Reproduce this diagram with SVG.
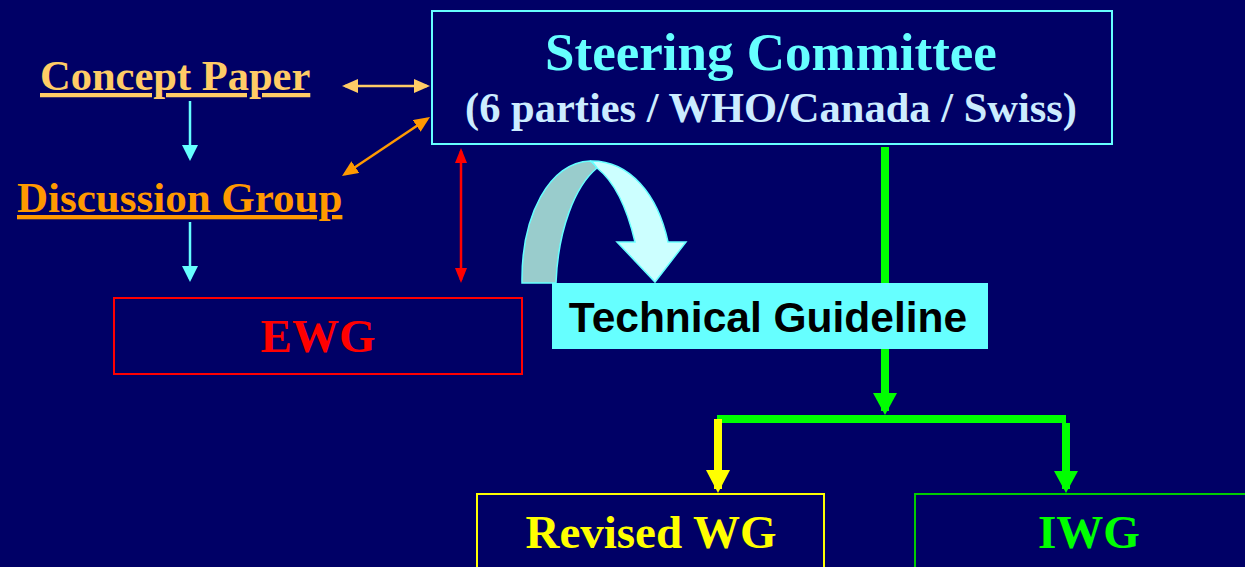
<svg xmlns="http://www.w3.org/2000/svg" width="1245" height="567" viewBox="0 0 1245 567">
<style>
.serif{font-family:"Liberation Serif","Times New Roman",serif;font-weight:bold}
.sans{font-family:"Liberation Sans",Arial,sans-serif;font-weight:bold}
.thin{fill:none;stroke-width:2.5}
.thick{fill:none;stroke-width:8}
</style>
<defs>
<marker id="hCyan" viewBox="0 0 16 16" refX="13" refY="8" markerWidth="16" markerHeight="16" markerUnits="userSpaceOnUse" orient="auto-start-reverse"><path d="M0,0 L16,8 L0,16 Z" fill="#66FFFF"/></marker>
<marker id="hGold" viewBox="0 0 16 14" refX="13" refY="7" markerWidth="16" markerHeight="14" markerUnits="userSpaceOnUse" orient="auto-start-reverse"><path d="M0,0 L16,7 L0,14 Z" fill="#FFCC66"/></marker>
<marker id="hOrange" viewBox="0 0 16 14" refX="13" refY="7" markerWidth="16" markerHeight="14" markerUnits="userSpaceOnUse" orient="auto-start-reverse"><path d="M0,0 L16,7 L0,14 Z" fill="#FF9900"/></marker>
<marker id="hRed" viewBox="0 0 15 12" refX="12" refY="6" markerWidth="15" markerHeight="12" markerUnits="userSpaceOnUse" orient="auto-start-reverse"><path d="M0,0 L15,6 L0,12 Z" fill="#FF0000"/></marker>
<marker id="hGreen" viewBox="0 0 22 24" refX="18" refY="12" markerWidth="22" markerHeight="24" markerUnits="userSpaceOnUse" orient="auto"><path d="M0,0 L22,12 L0,24 Z" fill="#00FF00"/></marker>
<marker id="hYellow" viewBox="0 0 23 24" refX="19" refY="12" markerWidth="23" markerHeight="24" markerUnits="userSpaceOnUse" orient="auto"><path d="M0,0 L23,12 L0,24 Z" fill="#FFFF00"/></marker>
</defs>
<rect width="1245" height="567" fill="#000066"/>
<g id="connectors">
<line class="thin" x1="190" y1="101" x2="190" y2="158" stroke="#66FFFF" marker-end="url(#hCyan)"/>
<line class="thin" x1="190" y1="222" x2="190" y2="279" stroke="#66FFFF" marker-end="url(#hCyan)"/>
<line class="thin" x1="345" y1="86" x2="427" y2="86" stroke="#FFCC66" marker-start="url(#hGold)" marker-end="url(#hGold)"/>
<line class="thin" x1="344.5" y1="174.3" x2="427.5" y2="118.7" stroke="#FF9900" marker-start="url(#hOrange)" marker-end="url(#hOrange)"/>
<line class="thin" x1="461" y1="151" x2="461" y2="280" stroke="#FF0000" marker-start="url(#hRed)" marker-end="url(#hRed)"/>
<line class="thick" x1="885" y1="147" x2="885" y2="411" stroke="#00FF00" stroke-width="7" marker-end="url(#hGreen)"/>
<line class="thick" x1="717" y1="419" x2="1066" y2="419" stroke="#00FF00"/>
<line class="thick" x1="1066" y1="423" x2="1066" y2="489" stroke="#00FF00" marker-end="url(#hGreen)"/>
<line class="thick" x1="718" y1="419" x2="718" y2="489" stroke="#FFFF00" marker-end="url(#hYellow)"/>
<g id="curved-arrow">
<path d="M522,283 C521,215 550,162 590,161 C593,162 595,165 597,168 C575,186 558,230 556,283 Z" fill="#99CCCC" stroke="#66FFFF" stroke-width="1.5"/>
<path d="M590,161 C630,160 658,195 668,242 L686,242 L655,282 L617,242 L635,242 C627,208 615,182 597,168 C595,165 593,162 590,161 Z" fill="#CCFFFF" stroke="#66FFFF" stroke-width="1.5"/>
</g>
</g>
<g id="steering">
<rect x="432" y="11" width="680" height="133" fill="#000066" stroke="#66FFFF" stroke-width="2"/>
<text class="serif" x="771" y="70" font-size="53" fill="#66FFFF" text-anchor="middle">Steering Committee</text>
<text class="serif" x="771" y="122" font-size="42.5" fill="#CCECFF" text-anchor="middle">(6 parties / WHO/Canada / Swiss)</text>
</g>
<g id="concept-paper">
<text class="serif" x="40" y="90" font-size="42.5" fill="#FFCC66" text-decoration="underline">Concept Paper</text>
</g>
<g id="discussion-group">
<text class="serif" x="17" y="212" font-size="43" fill="#FF9900" text-decoration="underline">Discussion Group</text>
</g>
<g id="ewg">
<rect x="114" y="298" width="408" height="76" fill="none" stroke="#FF0000" stroke-width="2"/>
<text class="serif" x="318" y="352" font-size="47" fill="#FF0000" text-anchor="middle">EWG</text>
</g>
<g id="technical-guideline">
<rect x="552" y="283" width="436" height="66" fill="#66FFFF"/>
<text class="sans" x="768" y="332" font-size="42.5" fill="#000000" text-anchor="middle">Technical Guideline</text>
</g>
<g id="revised-wg">
<rect x="477" y="494" width="347" height="80" fill="none" stroke="#FFFF00" stroke-width="2"/>
<text class="serif" x="651" y="548" font-size="47" fill="#FFFF00" text-anchor="middle">Revised WG</text>
</g>
<g id="iwg">
<rect x="915" y="494" width="340" height="80" fill="none" stroke="#00CC00" stroke-width="2"/>
<text class="serif" x="1089" y="548" font-size="47" fill="#00FF00" text-anchor="middle">IWG</text>
</g>
</svg>
